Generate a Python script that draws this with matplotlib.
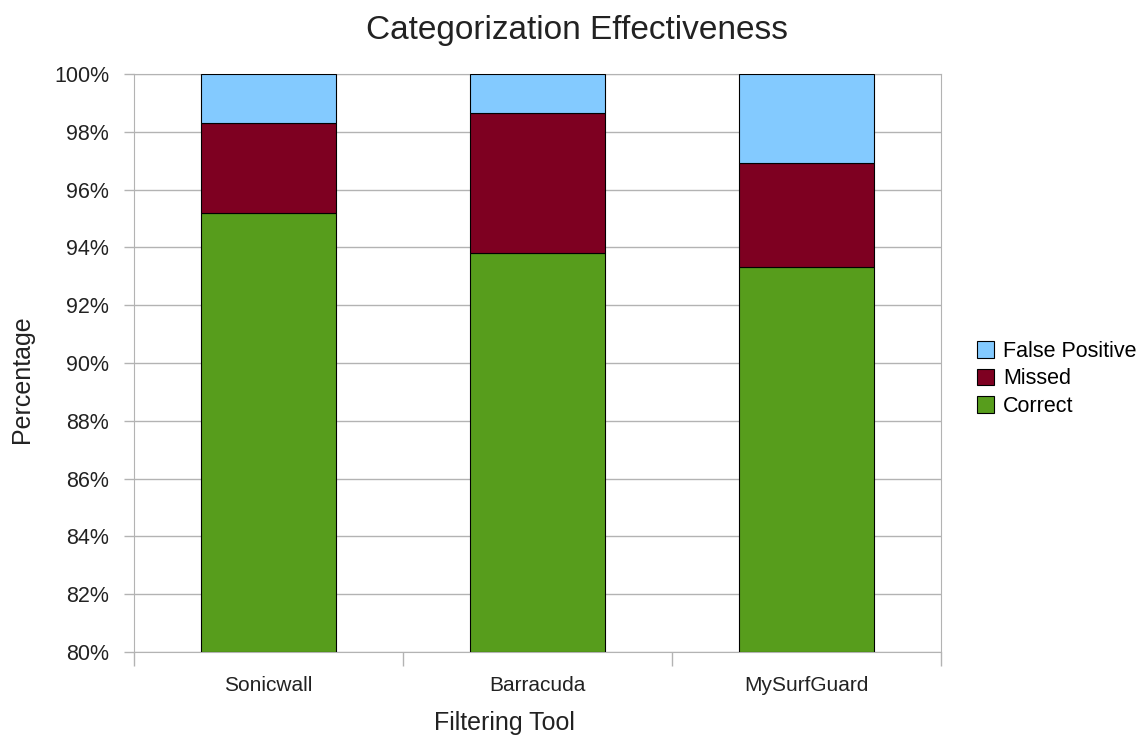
import matplotlib.pyplot as plt
import numpy as np

tools = ['Sonicwall', 'Barracuda', 'MySurfGuard']
correct = [95.18, 93.82, 93.31]
missed = [3.12, 4.84, 3.60]
false_pos = [100 - c - m for c, m in zip(correct, missed)]

plt.rcParams['font.family'] = ['Liberation Sans', 'DejaVu Sans']

fig = plt.figure(figsize=(11.4, 7.36), dpi=100)
ax = fig.add_axes([134/1140, 84/736, 807/1140, 578/736])

x = np.arange(len(tools))
w = 0.5
c_bot = np.array(correct)
m_bot = c_bot + np.array(missed)
# bars start at 80 (axis bottom)
ax.bar(x, c_bot - 80, w, bottom=80, color='#579d1c', edgecolor='black', linewidth=0.8, label='Correct', zorder=3)
ax.bar(x, missed, w, bottom=c_bot, color='#7e0021', edgecolor='black', linewidth=0.8, label='Missed', zorder=3)
ax.bar(x, false_pos, w, bottom=m_bot, color='#83caff', edgecolor='black', linewidth=0.8, label='False Positive', zorder=3)

ax.set_xlim(-0.5, 2.5)
ax.set_ylim(80, 100)
ax.set_yticks(np.arange(80, 101, 2))
ax.set_yticklabels(['%d%%' % v for v in range(80, 101, 2)])
ax.set_xticks(x)
ax.set_xticklabels(tools)
ax.set_xticks([-0.5, 0.5, 1.5, 2.5], minor=True)
ax.tick_params(axis='x', which='major', length=0, pad=17, labelsize=15, colors='#222222')
ax.tick_params(axis='x', which='minor', length=10, color='#b3b3b3', width=1)
ax.tick_params(axis='y', length=7, color='#b3b3b3', width=1, pad=11, labelsize=15.5, labelcolor='#222222')
ax.grid(axis='y', color='#b3b3b3', linewidth=1, zorder=0)
for s in ax.spines.values():
    s.set_color('#b3b3b3')

fig.text(504/1140, 1 - 723/736, 'Filtering Tool', fontsize=18, ha='center', va='center', color='#222222')
fig.text(22/1140, 1 - 379/736, 'Percentage', fontsize=18, ha='center', va='center',
         rotation=90, color='#222222')
fig.text(577/1140, 1 - 30/736, 'Categorization Effectiveness', fontsize=24,
         ha='center', va='center', color='#222222')

handles, labels = ax.get_legend_handles_labels()
fig.legend(handles[::-1], labels[::-1], loc='center left', bbox_to_anchor=(977/1140, 1 - 379/736),
           frameon=False, fontsize=15.5, handlelength=0.8, handleheight=0.8, handletextpad=0.4,
           labelspacing=0.3, borderpad=0, borderaxespad=0)

fig.savefig('out.png', dpi=100)
